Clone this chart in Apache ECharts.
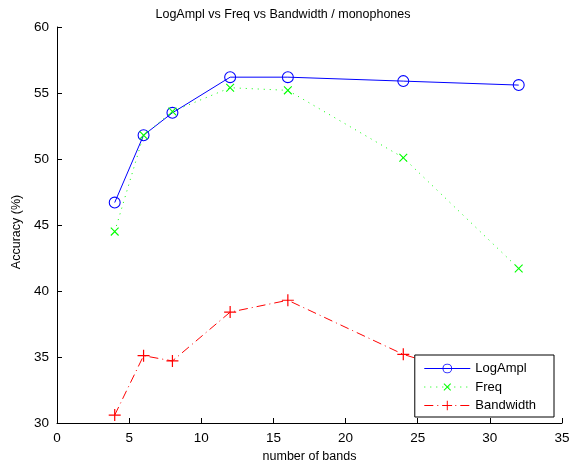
<!DOCTYPE html>
<html>
<head>
<meta charset="utf-8">
<script src="https://cdn.jsdelivr.net/npm/echarts@6/dist/echarts.min.js"></script>
<style>
  html, body { margin: 0; padding: 0; background: #fff; }
  #main { width: 585px; height: 468px; }
</style>
</head>
<body>
<div id="main"></div>
<script>
var bands = [4, 6, 8, 12, 16, 24, 32];
var logAmpl = [46.7, 51.8, 53.5, 56.2, 56.2, 55.9, 55.6];
var freq = [44.5, 51.8, 53.6, 55.4, 55.2, 50.1, 41.7];
var bandwidth = [30.6, 35.1, 34.7, 38.4, 39.3, 35.2, 32.5];

function pairs(xs, ys) {
    return xs.map(function (x, i) { return [x, ys[i]]; });
}

// outlined markers drawn as filled shapes so the stroke stays 1px
var ringPath = 'path://M10,0A10,10 0 1,1 10,20A10,10 0 1,1 10,0ZM10,1.8A8.2,8.2 0 1,0 10,18.2A8.2,8.2 0 1,0 10,1.8Z';
var plusPath = 'path://M4.5,0H5.5V4.5H10V5.5H5.5V10H4.5V5.5H0V4.5H4.5Z';
var font = '"Liberation Sans", Arial, sans-serif';

var chartDom = document.getElementById('main');
var myChart = echarts.init(chartDom);
var option;

option = {
    animation: false,
    title: {
        text: 'LogAmpl vs Freq vs Bandwidth / monophones',
        left: 278,
        textAlign: 'center',
        top: 3,
        textStyle: { fontFamily: font, fontSize: 12.5, fontWeight: 'normal', color: '#000' }
    },
    legend: {
        orient: 'vertical',
        right: 31,
        bottom: 51,
        backgroundColor: '#fff',
        borderColor: '#000',
        borderWidth: 1,
        padding: [6, 18, 4, 9],
        itemWidth: 46,
        itemHeight: 12,
        itemGap: 3.5,
        lineStyle: { width: 1 },
        textStyle: { fontFamily: font, fontSize: 13, lineHeight: 15, color: '#000' },
        data: ['LogAmpl', 'Freq', 'Bandwidth']
    },
    grid: {
        left: 57,
        right: 23,
        top: 27,
        bottom: 44
    },
    xAxis: {
        type: 'value',
        min: 0,
        max: 35,
        interval: 5,
        name: 'number of bands',
        nameLocation: 'middle',
        nameGap: 27,
        nameTextStyle: { fontFamily: font, fontSize: 12.5, color: '#000' },
        axisLine: { lineStyle: { color: '#000' } },
        axisTick: { inside: true, length: 5, lineStyle: { color: '#000' } },
        axisLabel: { fontFamily: font, fontSize: 13.5, color: '#000', margin: 8 },
        splitLine: { show: false }
    },
    yAxis: {
        type: 'value',
        min: 30,
        max: 60,
        interval: 5,
        name: 'Accuracy (%)',
        nameLocation: 'middle',
        nameGap: 30,
        nameTextStyle: { fontFamily: font, fontSize: 12.5, color: '#000', padding: [0, 14, 0, 0] },
        axisLine: { show: true, lineStyle: { color: '#000' } },
        axisTick: { show: true, inside: true, length: 5, lineStyle: { color: '#000' } },
        axisLabel: { fontFamily: font, fontSize: 13.5, color: '#000', margin: 8 },
        splitLine: { show: false }
    },
    series: [
        {
            name: 'LogAmpl',
            type: 'line',
            data: pairs(bands, logAmpl),
            symbol: ringPath,
            symbolSize: 12,
            itemStyle: { color: '#0000ff' },
            lineStyle: { color: '#0000ff', width: 1, type: 'solid' }
        },
        {
            name: 'Freq',
            type: 'line',
            data: pairs(bands, freq),
            symbol: plusPath,
            symbolSize: 11,
            symbolRotate: 45,
            itemStyle: { color: '#00ff00' },
            lineStyle: { color: '#00ff00', width: 1, type: [1, 5] }
        },
        {
            name: 'Bandwidth',
            type: 'line',
            data: pairs(bands, bandwidth),
            symbol: plusPath,
            symbolSize: 12,
            itemStyle: { color: '#ff0000' },
            lineStyle: { color: '#ff0000', width: 1, type: [9, 4, 1, 4] }
        }
    ]
};

option && myChart.setOption(option);
</script>
</body>
</html>
